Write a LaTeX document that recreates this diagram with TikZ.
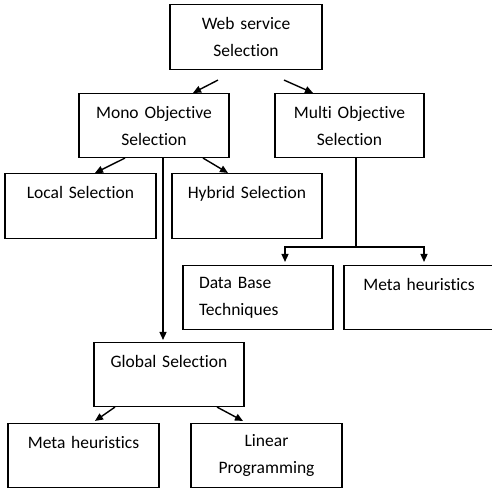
\documentclass[tikz,border=0pt]{standalone}
\usepackage{fontspec}
\setmainfont{Carlito}[Ligatures=CommonOff]
\usetikzlibrary{arrows.meta,calc}
\begin{document}
\begin{tikzpicture}[>={Triangle[length=8pt,width=7pt]}, x=1pt, y=-1pt, line width=1.1pt]
        % 画布范围
        \useasboundingbox (0,0) rectangle (492,490);
        \tikzset{
          box/.style={draw, rectangle, inner sep=0pt, minimum width=150pt, minimum height=64pt,
            text width=144pt, align=center, font=\fontsize{17.5}{27}\selectfont},
          link/.style={->, line width=1.4pt}
        }
        
        % 方框 (位置按原图像素设定)
        \node[box, minimum width=152pt, minimum height=65pt] (web) at (246,37) {Web service\\Selection};
        \node[box] (mono) at (154,125.5) {Mono Objective\\Selection};
        \node[box, minimum width=149pt] (multi) at (349.5,125.5) {Multi Objective\\Selection};
        \node[box, minimum width=151pt, minimum height=65pt] (local) at (80.5,206) {Local Selection\\~};
        \node[box, minimum height=65pt] (hybrid) at (247,206) {Hybrid Selection\\~};
        \node[box, text width=118pt, align=left] (db) at (258,297.5) {Data Base\\Techniques};
        \node[box] (metaR) at (419,297.5) {Meta heuristics\\~};
        \node[box] (global) at (169,374.5) {Global Selection\\~};
        \node[box, minimum width=151pt] (metaL) at (83.5,455.5) {Meta heuristics\\~};
        \node[box, minimum width=151pt] (linear) at (266.5,455.5) {Linear\\Programming};
        
        % 第一层箭头
        \draw[link] ($(web.south)+(-28,10)$) -- ($(mono.north)+(39,0)$);
        \draw[link] ($(web.south)+(38,10)$) -- ($(multi.north)+(-36.5,0)$);
        
        % Mono 分支
        \draw[link] ($(mono.south)+(-29,0)$) -- ($(local.north)+(14.5,0)$);
        \draw[link] ($(mono.south)+(49,0)$) -- ($(hybrid.north)+(-19,0)$);
        \draw[link] ($(mono.south)+(9,0)$) -- ($(global.north)+(-6,-2)$);
        
        % Multi 分支
        \coordinate (M) at ($(multi.south)+(6.5,89)$);
        \draw[line width=1.4pt] (multi.south -| M) -- (M);
        \draw[link] (M) -| ($(db.north)+(27,-3)$);
        \draw[link] (M) -| ($(metaR.north)+(5,-3)$);
        
        % Global 分支
        \draw[link] ($(global.south)+(-54,0)$) -- ($(metaL.north)+(11.5,-2)$);
        \draw[link] ($(global.south)+(48,0)$) -- ($(linear.north)+(-23.5,-2)$);
        
    \end{tikzpicture}
\end{document}
